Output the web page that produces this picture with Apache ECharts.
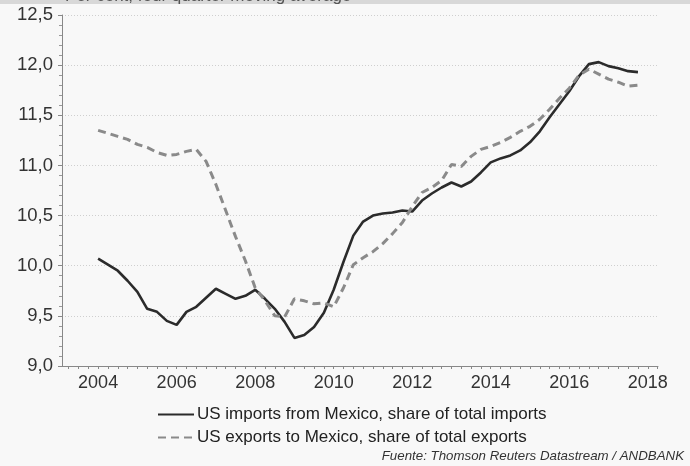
<!DOCTYPE html>
<html>
<head>
<meta charset="utf-8">
<script src="https://cdn.jsdelivr.net/npm/echarts@6/dist/echarts.min.js"></script>
<style>
  html, body { margin: 0; padding: 0; background: #f8f8f8; }
  #chart { width: 690px; height: 466px; }
</style>
</head>
<body>
<div id="chart"></div>
<script>
// quarters shown on the chart
var quarters = [
  '2004Q1','2004Q2','2004Q3','2004Q4','2005Q1','2005Q2','2005Q3','2005Q4',
  '2006Q1','2006Q2','2006Q3','2006Q4','2007Q1','2007Q2','2007Q3','2007Q4',
  '2008Q1','2008Q2','2008Q3','2008Q4','2009Q1','2009Q2','2009Q3','2009Q4',
  '2010Q1','2010Q2','2010Q3','2010Q4','2011Q1','2011Q2','2011Q3','2011Q4',
  '2012Q1','2012Q2','2012Q3','2012Q4','2013Q1','2013Q2','2013Q3','2013Q4',
  '2014Q1','2014Q2','2014Q3','2014Q4','2015Q1','2015Q2','2015Q3','2015Q4',
  '2016Q1','2016Q2','2016Q3','2016Q4','2017Q1','2017Q2','2017Q3','2017Q4'
];

// US imports from Mexico, share of total imports
var imports = [
  10.07, 10.01, 9.95, 9.85, 9.74, 9.57, 9.54, 9.45,
  9.41, 9.54, 9.59, 9.68, 9.77, 9.72, 9.67, 9.70,
  9.76, 9.67, 9.57, 9.44, 9.28, 9.31, 9.39, 9.53,
  9.76, 10.04, 10.30, 10.44, 10.50, 10.52, 10.53, 10.55,
  10.54, 10.65, 10.72, 10.78, 10.83, 10.79, 10.84, 10.93,
  11.03, 11.07, 11.10, 11.15, 11.23, 11.34, 11.48, 11.61,
  11.74, 11.89, 12.01, 12.03, 11.99, 11.97, 11.94, 11.93
];

// US exports to Mexico, share of total exports
var exports = [
  11.35, 11.32, 11.29, 11.26, 11.21, 11.18, 11.13, 11.10,
  11.11, 11.14, 11.16, 11.04, 10.81, 10.55, 10.29, 10.05,
  9.78, 9.65, 9.50, 9.49, 9.67, 9.65, 9.62, 9.63,
  9.59, 9.78, 10.01, 10.08, 10.14, 10.22, 10.32, 10.43,
  10.59, 10.73, 10.78, 10.85, 11.01, 10.99, 11.09, 11.16,
  11.19, 11.23, 11.28, 11.34, 11.39, 11.46, 11.56, 11.67,
  11.77, 11.90, 11.96, 11.91, 11.86, 11.83, 11.79, 11.80
];

var yearLabels = [2004, 2006, 2008, 2010, 2012, 2014, 2016, 2018];
var seriesNames = ['US imports from Mexico, share of total imports',
                   'US exports to Mexico, share of total exports'];

function qToYear(q) {
  return parseInt(q.slice(0, 4)) + (parseInt(q.slice(5)) - 1) / 4;
}
function pairs(vals) {
  return vals.map(function (v, i) { return [qToYear(quarters[i]), v]; });
}

var xMin = 2003.08, xMax = 2018.26;
var quarterTicks = [];
for (var t = 2003.25; t <= xMax; t += 0.25) quarterTicks.push(t);

var font = 'Liberation Sans, Arial, sans-serif';
var myChart = echarts.init(document.getElementById('chart'));
myChart.setOption({
  backgroundColor: '#f8f8f8',
  animation: false,
  textStyle: { fontFamily: font },
  graphic: [
    { type: 'rect', shape: { x: 0, y: 0, width: 690, height: 4 },
      style: { fill: '#d8d8d8' } },
    { type: 'text', left: 65, top: -12,
      style: { text: 'Per cent, four quarter moving average', fill: '#555',
               font: '17px ' + font } },
    { type: 'text', right: 6, top: 450,
      style: { text: 'Fuente: Thomson Reuters Datastream / ANDBANK', fill: '#333',
               font: 'italic 13.3px ' + font } }
  ],
  grid: { left: 62, right: 32, top: 15, bottom: 100 },
  legend: {
    orient: 'vertical',
    left: 152, top: 401,
    itemWidth: 36, itemHeight: 10, itemGap: 6,
    itemStyle: { opacity: 0 },
    textStyle: { fontSize: 17, color: '#222', padding: [0, 0, 0, -2] },
    data: seriesNames
  },
  xAxis: {
    type: 'value',
    min: xMin, max: xMax,
    axisLine: { lineStyle: { color: '#888' } },
    axisTick: { customValues: quarterTicks, length: 3, lineStyle: { color: '#888' } },
    axisLabel: { customValues: yearLabels, fontSize: 18, color: '#333', margin: 8,
                 formatter: function (v) { return String(Math.round(v)); } },
    splitLine: { show: false }
  },
  yAxis: {
    type: 'value',
    min: 9, max: 12.5, interval: 0.5,
    axisLine: { show: true, lineStyle: { color: '#888' } },
    axisTick: { show: true, length: 4, lineStyle: { color: '#888' } },
    minorTick: { show: true, splitNumber: 5, length: 3, lineStyle: { color: '#999' } },
    axisLabel: { fontSize: 18.5, color: '#333', margin: 9,
                 formatter: function (v) { return v.toFixed(1).replace('.', ','); } },
    splitLine: { show: true, lineStyle: { color: '#cfcfcf', type: [1, 2], width: 1 } }
  },
  series: [
    {
      name: seriesNames[0], type: 'line', symbol: 'none',
      data: pairs(imports),
      color: '#2b2b2b',
      lineStyle: { color: '#2b2b2b', width: 2.6 }
    },
    {
      name: seriesNames[1], type: 'line', symbol: 'none',
      data: pairs(exports),
      color: '#8a8a8a',
      lineStyle: { color: '#8a8a8a', width: 3, type: [8, 5] }
    }
  ]
});
</script>
</body>
</html>
